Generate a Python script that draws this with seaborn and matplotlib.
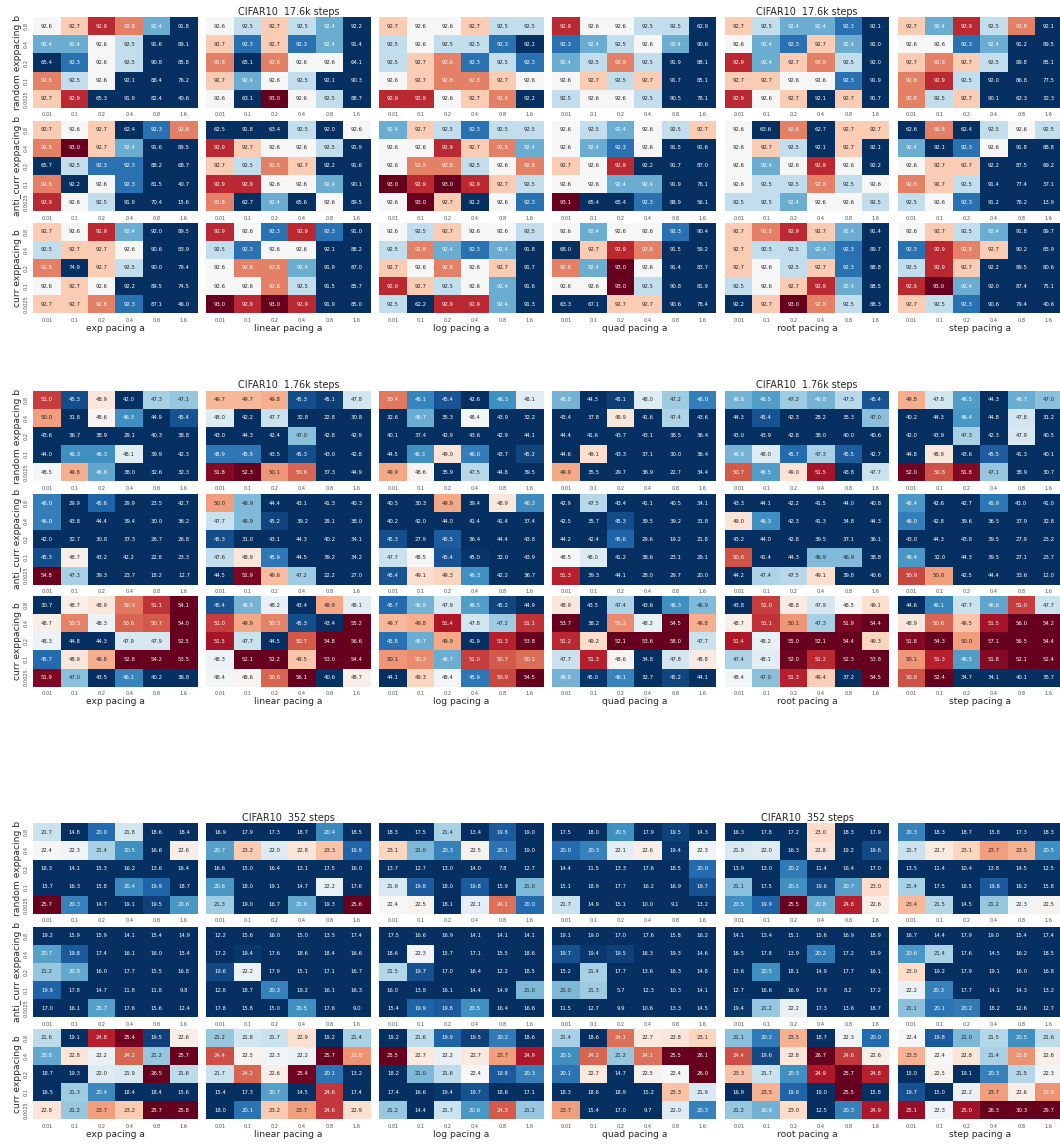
import matplotlib
matplotlib.use("Agg")
import matplotlib.pyplot as plt
import numpy as np
import pandas as pd
import seaborn as sns

# ---------------- axes categories ----------------
pacing_a_labels = ["0.01", "0.1", "0.2", "0.4", "0.8", "1.6"]
pacing_b_labels = ["0.8", "0.4", "0.2", "0.1", "0.0025"]
pacing_funcs = ["exp", "linear", "log", "quad", "root", "step"]
orders = ["random", "anti_curr", "curr"]
budgets = ["17.6k", "1.76k", "352"]

# ---------------- CIFAR10 17.6k steps ----------------
s17k_random_exp = [[92.6, 92.7, 92.9, 92.8, 92.4, 91.8], [92.4, 92.4, 92.6, 92.5, 91.6, 89.1], [65.4, 92.3, 92.6, 92.5, 90.8, 85.8], [92.8, 92.5, 92.6, 92.1, 88.4, 76.2], [92.7, 92.9, 65.3, 91.9, 82.4, 40.6]]
s17k_random_linear = [[92.6, 92.5, 92.7, 92.5, 92.4, 92.2], [92.7, 92.3, 92.7, 92.3, 92.4, 91.4], [92.8, 65.1, 92.8, 92.6, 92.6, 64.1], [92.7, 92.4, 92.6, 92.5, 92.1, 90.3], [92.6, 63.1, 93.0, 92.6, 92.5, 88.7]]
s17k_random_log = [[92.7, 92.6, 92.6, 92.7, 92.5, 92.5], [92.5, 92.6, 92.5, 92.5, 92.3, 92.2], [92.5, 92.7, 92.8, 92.3, 92.5, 92.3], [92.6, 92.7, 92.8, 92.8, 92.7, 92.6], [92.9, 92.9, 92.6, 92.7, 92.8, 92.2]]
s17k_random_quad = [[92.9, 92.6, 92.6, 92.5, 92.5, 62.9], [92.3, 92.4, 92.5, 92.6, 92.4, 90.6], [92.4, 92.5, 92.8, 92.5, 91.9, 88.1], [92.6, 92.7, 92.5, 92.7, 91.7, 85.1], [92.5, 92.6, 92.6, 92.5, 90.5, 78.1]]
s17k_random_root = [[92.7, 92.5, 92.4, 92.4, 92.3, 92.1], [92.6, 92.4, 92.3, 92.7, 92.4, 92.0], [92.9, 92.4, 92.7, 92.8, 92.5, 92.0], [92.7, 92.7, 92.6, 92.6, 92.3, 91.9], [92.9, 92.6, 92.7, 92.1, 92.7, 91.7]]
s17k_random_step = [[92.7, 92.4, 92.9, 92.5, 92.8, 92.1], [92.6, 92.6, 92.3, 92.4, 91.2, 89.5], [92.7, 92.8, 92.7, 92.5, 89.8, 85.1], [92.8, 92.9, 92.5, 92.0, 86.8, 77.5], [92.8, 92.5, 92.7, 90.1, 62.3, 32.3]]

s17k_anti_exp = [[92.7, 92.6, 92.7, 62.4, 92.3, 92.8], [92.8, 93.0, 92.7, 92.4, 91.6, 89.5], [65.7, 92.5, 92.3, 92.3, 88.2, 68.7], [92.8, 92.2, 92.6, 92.3, 81.5, 40.7], [92.9, 92.6, 92.5, 91.9, 70.4, 15.6]]
s17k_anti_linear = [[62.5, 91.8, 63.4, 92.5, 92.0, 92.6], [92.9, 92.7, 92.6, 92.6, 92.5, 91.9], [92.7, 92.5, 92.8, 92.7, 92.2, 91.6], [92.9, 92.9, 92.6, 92.6, 92.4, 90.1], [92.8, 62.7, 92.4, 65.6, 92.6, 89.5]]
s17k_anti_log = [[92.4, 92.7, 92.5, 92.3, 92.5, 92.5], [92.6, 92.6, 92.9, 92.7, 92.8, 92.4], [92.6, 92.8, 92.8, 92.5, 92.6, 92.8], [93.0, 92.9, 93.0, 92.9, 92.7, 92.5], [92.6, 93.0, 92.7, 92.2, 92.6, 92.3]]
s17k_anti_quad = [[92.6, 92.5, 92.4, 92.6, 92.5, 92.7], [92.6, 92.4, 92.3, 92.6, 91.5, 91.6], [92.7, 92.6, 92.9, 92.2, 91.7, 87.0], [92.6, 92.6, 92.4, 92.4, 91.9, 76.1], [93.1, 65.4, 65.4, 92.3, 88.9, 56.1]]
s17k_anti_root = [[92.6, 63.6, 92.8, 62.7, 92.7, 92.7], [92.6, 92.7, 92.5, 92.1, 92.7, 92.1], [92.6, 92.4, 92.6, 92.9, 92.6, 92.2], [92.6, 92.5, 92.5, 92.8, 92.5, 92.6], [92.5, 92.5, 92.4, 92.6, 92.6, 92.5]]
s17k_anti_step = [[62.6, 92.8, 62.4, 92.5, 92.6, 92.5], [92.4, 92.1, 92.3, 92.6, 91.8, 88.8], [92.6, 92.7, 92.7, 92.2, 87.5, 69.2], [92.8, 92.7, 92.5, 91.4, 77.4, 37.1], [92.5, 92.6, 92.3, 91.2, 76.2, 13.9]]

s17k_curr_exp = [[92.7, 92.6, 92.9, 92.4, 92.0, 89.5], [92.5, 92.7, 92.7, 92.6, 90.6, 83.9], [92.8, 74.9, 92.7, 92.5, 90.0, 79.4], [92.6, 92.7, 92.6, 92.2, 89.5, 74.5], [92.7, 92.7, 92.8, 92.3, 87.1, 46.0]]
s17k_curr_linear = [[92.9, 92.6, 92.3, 92.9, 92.3, 91.0], [92.5, 92.3, 92.6, 92.6, 92.1, 88.2], [92.6, 92.8, 92.8, 92.4, 91.9, 87.0], [92.6, 92.6, 92.8, 92.5, 91.5, 85.7], [93.0, 92.9, 93.0, 92.9, 91.9, 85.0]]
s17k_curr_log = [[92.6, 92.5, 92.7, 92.6, 92.6, 92.5], [92.5, 92.8, 92.4, 92.3, 92.4, 91.8], [92.7, 92.6, 92.8, 92.6, 92.7, 91.7], [92.9, 92.7, 92.5, 92.6, 92.4, 91.6], [92.5, 62.2, 92.9, 92.9, 92.4, 91.3]]
s17k_curr_quad = [[92.6, 92.4, 92.6, 92.6, 92.3, 90.4], [68.0, 92.7, 92.9, 92.8, 91.5, 59.2], [92.8, 92.4, 93.0, 92.6, 91.4, 83.7], [92.6, 92.6, 93.0, 92.5, 90.8, 81.9], [63.3, 67.1, 92.7, 92.7, 90.6, 78.4]]
s17k_curr_root = [[92.7, 92.8, 92.9, 92.7, 92.4, 91.4], [92.7, 92.5, 92.5, 92.4, 92.3, 89.7], [92.7, 92.6, 92.5, 92.7, 92.3, 88.8], [92.5, 92.6, 92.7, 92.9, 92.4, 88.5], [92.2, 92.7, 93.0, 92.8, 92.5, 88.3]]
s17k_curr_step = [[92.6, 92.7, 92.5, 92.4, 91.8, 89.7], [92.3, 92.9, 92.8, 92.7, 90.2, 83.9], [92.5, 92.9, 92.7, 92.2, 89.5, 80.6], [92.9, 93.0, 92.4, 92.0, 87.4, 75.1], [92.7, 92.5, 92.3, 90.6, 79.4, 40.6]]

# ---------------- CIFAR10 1.76k steps ----------------
s1k_random_exp = [[51.0, 45.3, 48.9, 42.0, 47.3, 47.1], [50.0, 31.8, 48.6, 46.3, 44.9, 45.4], [43.6, 36.7, 38.9, 29.1, 40.3, 38.8], [44.0, 46.3, 46.3, 48.1, 39.9, 42.3], [48.5, 49.8, 46.6, 38.0, 32.6, 32.3]]
s1k_random_linear = [[49.7, 49.7, 49.8, 45.3, 45.1, 47.8], [48.0, 42.2, 47.7, 32.8, 22.8, 30.8], [43.0, 44.3, 42.4, 47.0, 42.8, 42.9], [45.9, 45.9, 43.5, 45.3, 43.0, 42.8], [51.8, 52.3, 50.1, 50.6, 37.3, 44.9]]
s1k_random_log = [[50.4, 46.1, 45.4, 42.6, 46.3, 48.1], [32.6, 46.7, 35.3, 48.4, 43.9, 32.2], [40.1, 37.4, 42.9, 43.6, 42.9, 44.1], [44.5, 46.3, 49.0, 46.0, 43.7, 45.2], [49.9, 48.6, 35.9, 47.5, 44.8, 39.5]]
s1k_random_quad = [[46.8, 44.3, 45.1, 48.0, 47.2, 46.0], [43.4, 37.8, 48.9, 41.6, 47.4, 43.6], [44.4, 41.6, 43.7, 43.1, 38.5, 36.4], [44.6, 49.1, 43.3, 37.1, 30.0, 36.4], [49.9, 35.5, 29.7, 36.9, 22.7, 34.4]]
s1k_random_root = [[46.8, 46.5, 47.2, 46.8, 47.5, 45.4], [44.3, 45.4, 42.3, 28.2, 35.3, 47.0], [43.0, 43.9, 42.8, 38.0, 40.0, 40.6], [46.8, 48.0, 45.7, 47.3, 45.5, 42.7], [50.7, 46.5, 49.0, 51.5, 43.8, 47.7]]
s1k_random_step = [[49.8, 47.8, 46.5, 44.3, 46.7, 47.0], [40.2, 44.3, 46.4, 44.8, 47.8, 31.2], [42.0, 43.9, 47.3, 42.3, 47.9, 40.5], [44.8, 48.9, 43.6, 45.5, 41.3, 40.1], [52.0, 50.8, 51.8, 47.1, 38.9, 30.7]]

s1k_anti_exp = [[46.0, 29.9, 45.6, 29.9, 23.5, 42.7], [46.0, 43.8, 44.4, 39.4, 30.0, 36.2], [42.0, 32.7, 30.8, 37.3, 26.7, 26.8], [45.3, 48.7, 43.2, 42.2, 22.8, 23.3], [54.8, 47.3, 39.3, 23.7, 18.2, 12.7]]
s1k_anti_linear = [[50.0, 46.9, 44.4, 43.1, 41.3, 40.3], [47.7, 46.9, 45.2, 39.2, 29.1, 38.0], [45.3, 31.0, 43.1, 44.3, 40.2, 34.1], [47.6, 48.9, 45.9, 44.5, 39.2, 34.2], [44.5, 51.9, 49.6, 47.2, 22.2, 27.0]]
s1k_anti_log = [[40.5, 30.3, 49.9, 39.4, 48.9, 46.2], [40.2, 42.0, 44.0, 41.4, 41.4, 37.4], [45.3, 27.9, 45.5, 36.4, 44.4, 43.8], [47.7, 48.5, 45.4, 45.0, 32.0, 43.9], [45.4, 49.1, 49.3, 46.3, 42.2, 36.7]]
s1k_anti_quad = [[42.9, 47.5, 43.4, 41.1, 40.5, 34.1], [42.5, 35.7, 45.3, 39.5, 39.2, 31.8], [44.2, 42.4, 45.6, 29.6, 19.2, 21.8], [48.5, 48.0, 41.2, 38.6, 23.1, 29.1], [51.3, 39.3, 44.1, 28.0, 29.7, 20.0]]
s1k_anti_root = [[43.3, 44.1, 42.2, 41.5, 44.0, 40.8], [49.0, 46.3, 42.3, 41.3, 34.8, 44.3], [43.2, 44.0, 42.8, 39.5, 37.1, 36.1], [50.8, 41.4, 44.3, 46.9, 46.9, 38.8], [44.2, 47.4, 47.5, 49.1, 39.8, 40.6]]
s1k_anti_step = [[46.4, 42.6, 42.7, 45.9, 43.0, 41.0], [46.0, 42.8, 39.6, 36.5, 37.9, 32.8], [43.0, 44.3, 43.8, 39.5, 27.9, 23.2], [46.4, 32.0, 44.3, 39.5, 27.1, 23.7], [50.9, 50.0, 42.5, 44.4, 33.6, 12.0]]

s1k_curr_exp = [[30.7, 48.7, 48.9, 50.4, 51.1, 54.1], [48.7, 50.3, 48.3, 50.6, 50.7, 54.0], [48.3, 44.8, 44.3, 47.9, 47.9, 52.5], [45.7, 48.9, 49.8, 52.8, 54.2, 53.5], [51.9, 47.0, 43.5, 46.1, 40.2, 36.8]]
s1k_curr_linear = [[45.4, 46.8, 48.2, 43.4, 49.9, 48.1], [51.0, 49.9, 50.3, 45.3, 43.4, 55.2], [51.5, 47.7, 44.5, 50.7, 54.8, 56.6], [48.3, 52.1, 52.2, 49.5, 53.0, 54.4], [48.4, 48.6, 50.6, 56.1, 40.6, 48.7]]
s1k_curr_log = [[45.7, 46.8, 47.9, 46.5, 45.2, 44.9], [49.7, 49.8, 51.4, 47.8, 47.2, 51.1], [45.8, 46.7, 49.9, 41.9, 51.3, 53.8], [50.1, 50.2, 46.7, 51.0, 50.7, 50.5], [44.1, 49.3, 48.4, 45.9, 50.9, 54.5]]
s1k_curr_quad = [[48.9, 43.5, 47.4, 43.6, 46.3, 46.9], [53.7, 38.2, 50.2, 48.2, 54.5, 49.8], [51.2, 49.2, 52.1, 53.6, 58.0, 47.7], [47.7, 51.3, 48.6, 34.8, 47.8, 48.8], [46.8, 45.0, 46.1, 32.7, 45.2, 44.1]]
s1k_curr_root = [[43.8, 51.0, 48.8, 47.9, 48.5, 49.1], [48.7, 51.1, 50.1, 47.3, 51.9, 54.4], [51.4, 48.2, 55.0, 52.1, 54.4, 49.3], [47.4, 48.1, 52.0, 51.2, 52.3, 53.8], [48.4, 47.0, 51.3, 49.4, 37.2, 54.5]]
s1k_curr_step = [[44.6, 46.1, 47.7, 46.6, 51.0, 47.7], [48.9, 50.6, 49.5, 51.5, 56.0, 54.2], [51.8, 54.3, 50.0, 57.1, 56.5, 54.4], [50.1, 51.3, 46.5, 51.8, 52.1, 52.4], [50.8, 52.4, 34.7, 34.1, 40.1, 35.7]]

# ---------------- CIFAR10 352 steps ----------------
s352_random_exp = [[21.7, 14.8, 20.0, 21.8, 18.6, 18.4], [22.4, 22.3, 21.4, 20.5, 16.6, 22.6], [16.3, 14.1, 15.3, 16.2, 13.6, 16.4], [15.7, 16.3, 15.8, 20.4, 19.9, 18.7], [25.7, 20.3, 14.7, 19.1, 19.5, 20.6]]
s352_random_linear = [[16.9, 17.9, 17.3, 18.7, 20.4, 18.5], [20.7, 23.2, 22.0, 22.8, 23.3, 19.9], [16.6, 15.0, 16.4, 13.1, 17.5, 16.0], [20.6, 18.0, 19.1, 14.7, 22.2, 17.6], [21.3, 19.0, 16.7, 20.8, 19.3, 25.6]]
s352_random_log = [[18.3, 17.5, 21.4, 13.4, 19.8, 19.0], [23.1, 21.0, 20.3, 22.5, 20.1, 19.0], [13.7, 12.7, 13.0, 14.0, 7.8, 12.7], [21.9, 19.8, 18.0, 19.8, 15.9, 21.0], [22.4, 22.5, 18.1, 22.1, 24.1, 20.0]]
s352_random_quad = [[17.5, 18.0, 20.5, 17.9, 19.5, 14.3], [20.0, 20.3, 22.1, 22.6, 19.4, 22.3], [14.4, 11.5, 13.3, 17.6, 18.5, 20.0], [15.1, 18.9, 17.7, 16.2, 16.9, 19.7], [21.7, 14.9, 15.1, 10.0, 9.1, 13.2]]
s352_random_root = [[16.3, 17.8, 17.2, 23.0, 18.3, 17.9], [21.9, 22.0, 16.3, 22.8, 19.2, 19.6], [13.9, 13.0, 20.2, 11.4, 16.4, 17.0], [21.1, 17.5, 20.5, 19.6, 20.7, 23.0], [20.5, 19.9, 25.5, 20.8, 24.8, 22.6]]
s352_random_step = [[20.3, 18.3, 18.7, 15.8, 17.3, 18.3], [21.7, 22.7, 23.1, 23.7, 23.5, 20.5], [13.5, 11.4, 10.4, 13.8, 14.5, 12.5], [21.4, 17.5, 18.5, 19.8, 16.2, 15.8], [23.4, 21.5, 14.5, 21.2, 22.3, 22.5]]

s352_anti_exp = [[19.2, 15.9, 15.9, 14.1, 15.4, 14.9], [20.7, 19.8, 17.4, 16.1, 16.0, 15.4], [21.2, 20.8, 16.0, 17.7, 15.5, 16.8], [19.9, 17.8, 14.7, 11.8, 11.8, 9.8], [17.0, 16.1, 20.7, 17.6, 15.6, 12.4]]
s352_anti_linear = [[12.2, 15.6, 16.0, 15.0, 13.5, 17.4], [17.2, 19.4, 17.6, 18.6, 18.4, 16.6], [19.6, 22.2, 17.9, 15.1, 17.1, 16.7], [12.8, 18.7, 20.3, 19.2, 16.1, 16.3], [17.8, 15.8, 15.0, 20.5, 17.6, 9.0]]
s352_anti_log = [[17.5, 16.6, 16.9, 14.1, 14.1, 14.1], [18.6, 22.3, 15.7, 17.1, 15.5, 18.6], [21.5, 19.7, 17.0, 16.4, 12.2, 18.5], [16.0, 13.8, 16.1, 14.4, 14.9, 21.0], [15.4, 19.9, 19.8, 20.5, 16.4, 16.6]]
s352_anti_quad = [[19.1, 19.0, 17.0, 17.6, 15.8, 16.2], [19.7, 19.4, 19.5, 16.3, 19.3, 14.6], [15.2, 21.4, 17.7, 13.6, 16.3, 14.8], [21.0, 21.3, 5.7, 12.3, 10.3, 14.1], [11.5, 12.7, 9.9, 10.6, 13.3, 14.5]]
s352_anti_root = [[14.1, 13.4, 15.1, 15.6, 16.9, 18.9], [16.5, 17.8, 13.9, 20.2, 17.2, 15.9], [13.6, 20.5, 18.1, 14.9, 17.7, 16.1], [12.7, 16.6, 16.9, 17.9, 8.2, 17.2], [19.4, 21.2, 22.2, 17.3, 13.6, 18.7]]
s352_anti_step = [[16.7, 14.4, 17.9, 19.0, 15.4, 17.4], [20.6, 21.4, 17.6, 14.5, 16.2, 18.5], [23.0, 19.2, 17.9, 19.1, 16.0, 16.8], [22.2, 20.3, 17.7, 14.1, 14.3, 13.2], [21.1, 20.1, 20.2, 18.2, 12.6, 12.7]]

s352_curr_exp = [[21.6, 19.1, 24.8, 25.4, 19.5, 22.6], [20.8, 22.8, 22.2, 24.2, 21.2, 25.7], [18.7, 19.3, 22.0, 21.9, 26.5, 21.6], [16.5, 21.3, 20.4, 18.4, 18.4, 15.6], [22.8, 21.2, 23.7, 23.2, 25.7, 25.8]]
s352_curr_linear = [[21.2, 21.8, 21.7, 22.9, 19.2, 21.4], [24.4, 22.5, 22.3, 22.2, 25.7, 23.8], [21.7, 24.2, 22.6, 25.4, 20.1, 13.2], [15.4, 17.3, 20.7, 14.5, 24.6, 17.4], [18.0, 20.1, 23.2, 23.7, 24.6, 22.9]]
s352_curr_log = [[19.2, 21.6, 19.9, 19.5, 20.2, 18.6], [25.5, 22.7, 22.2, 22.7, 23.7, 24.9], [18.2, 21.0, 21.6, 22.4, 19.8, 20.3], [17.4, 16.6, 19.4, 19.7, 18.6, 17.1], [21.2, 14.4, 21.7, 20.6, 24.3, 21.2]]
s352_curr_quad = [[21.4, 18.6, 24.1, 22.7, 22.8, 23.1], [20.5, 24.2, 21.2, 24.1, 25.5, 26.1], [20.1, 22.7, 14.7, 22.5, 22.4, 26.0], [18.3, 18.6, 18.9, 15.2, 23.3, 21.9], [23.7, 15.4, 17.0, 9.7, 22.0, 20.3]]
s352_curr_root = [[21.1, 20.2, 23.5, 18.7, 22.3, 20.0], [24.4, 19.6, 22.8, 26.7, 24.6, 22.6], [23.3, 21.7, 20.5, 24.9, 25.7, 24.8], [16.9, 23.5, 19.9, 19.0, 25.5, 15.8], [21.2, 20.9, 23.0, 12.5, 20.3, 24.9]]
s352_curr_step = [[22.4, 19.8, 21.0, 21.5, 20.5, 21.6], [23.5, 22.4, 22.8, 21.4, 23.8, 22.6], [15.0, 22.5, 19.1, 20.3, 21.5, 22.3], [19.7, 15.0, 22.2, 23.7, 22.6, 23.8], [25.1, 22.3, 25.0, 26.3, 30.3, 29.7]]

# lookup built from the named arrays
blocks = {
    "17.6k": {
        "random": [s17k_random_exp, s17k_random_linear, s17k_random_log, s17k_random_quad, s17k_random_root, s17k_random_step],
        "anti_curr": [s17k_anti_exp, s17k_anti_linear, s17k_anti_log, s17k_anti_quad, s17k_anti_root, s17k_anti_step],
        "curr": [s17k_curr_exp, s17k_curr_linear, s17k_curr_log, s17k_curr_quad, s17k_curr_root, s17k_curr_step],
    },
    "1.76k": {
        "random": [s1k_random_exp, s1k_random_linear, s1k_random_log, s1k_random_quad, s1k_random_root, s1k_random_step],
        "anti_curr": [s1k_anti_exp, s1k_anti_linear, s1k_anti_log, s1k_anti_quad, s1k_anti_root, s1k_anti_step],
        "curr": [s1k_curr_exp, s1k_curr_linear, s1k_curr_log, s1k_curr_quad, s1k_curr_root, s1k_curr_step],
    },
    "352": {
        "random": [s352_random_exp, s352_random_linear, s352_random_log, s352_random_quad, s352_random_root, s352_random_step],
        "anti_curr": [s352_anti_exp, s352_anti_linear, s352_anti_log, s352_anti_quad, s352_anti_root, s352_anti_step],
        "curr": [s352_curr_exp, s352_curr_linear, s352_curr_log, s352_curr_quad, s352_curr_root, s352_curr_step],
    },
}

# colour scale (centre +/- half range) per budget
color_center = {"17.6k": 92.6, "1.76k": 48.5, "352": 22.4}
color_half = {"17.6k": 0.4, "1.76k": 3.6, "352": 3.1}

# ---------------- layout ----------------
sns.set_theme(style="white")
plt.rcParams["font.family"] = ["DejaVu Sans"]

W, H = 1060, 1145
fig = plt.figure(figsize=(W / 100, H / 100), dpi=100)

block_tops = [17.3, 390.7, 823.3]
row_offsets = [0.0, 103.4, 205.4]
row_h = 90.5
col_left0, col_step, col_w = 33.3, 172.95, 164.3

TICK_FS = 3.6
ANNOT_FS = 3.9
LABEL_FS = 6.6
TITLE_FS = 6.9

for bi, budget in enumerate(budgets):
    vmin = color_center[budget] - color_half[budget]
    vmax = color_center[budget] + color_half[budget]
    for ri, order in enumerate(orders):
        for ci, pf in enumerate(pacing_funcs):
            top = block_tops[bi] + row_offsets[ri]
            left = col_left0 + ci * col_step
            ax = fig.add_axes([left / W, 1 - (top + row_h) / H, col_w / W, row_h / H])
            df = pd.DataFrame(blocks[budget][order][ci], index=pacing_b_labels, columns=pacing_a_labels)
            sns.heatmap(df, ax=ax, cmap="RdBu_r", vmin=vmin, vmax=vmax,
                        annot=True, fmt=".1f", annot_kws={"size": ANNOT_FS},
                        cbar=False, xticklabels=True, yticklabels=(ci == 0))
            ax.tick_params(axis="both", length=0, pad=3.2, labelsize=TICK_FS, colors="0.3")
            plt.setp(ax.get_xticklabels(), rotation=0)
            if ci == 0:
                plt.setp(ax.get_yticklabels(), rotation=90, va="center")
                ax.set_ylabel(f"{order} exppacing b", fontsize=LABEL_FS, color="0.15", labelpad=1.5)
            else:
                ax.set_ylabel("")
            if ri == 2:
                ax.set_xlabel(f"{pf} pacing a", fontsize=LABEL_FS, color="0.15", labelpad=0.8)
            else:
                ax.set_xlabel("")
            if ri == 0 and ci in (1, 4):
                ax.set_title(f"CIFAR10  {budget} steps", fontsize=TITLE_FS, color="0.15", pad=1.8)

fig.savefig("out.png", dpi=100, facecolor="white")
